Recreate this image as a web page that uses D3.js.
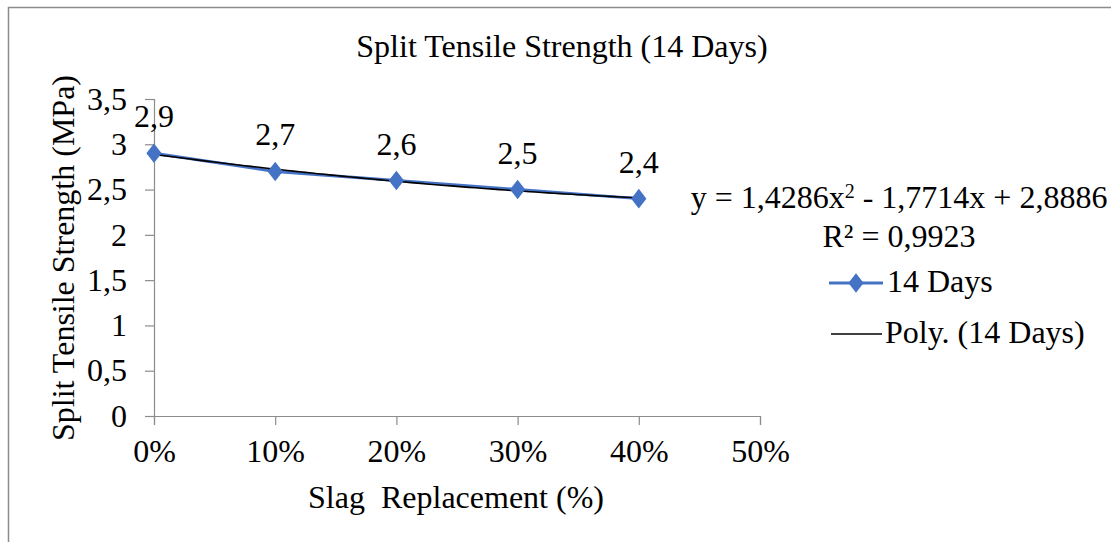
<!DOCTYPE html>
<html>
<head>
<meta charset="utf-8">
<script src="https://cdn.jsdelivr.net/npm/d3@7"></script>
<style>
  body { margin: 0; background: #fff; }
  svg text { font-family: "Liberation Serif", "Times New Roman", serif; fill: #000; }
</style>
</head>
<body>
<div id="chart"></div>
<script>
const width = 1111;
const height = 542;

// data
const categories = [0, 0.1, 0.2, 0.3, 0.4];
const strength14 = [2.9, 2.7, 2.6, 2.5, 2.4];
const valueLabels = ["2,9", "2,7", "2,6", "2,5", "2,4"];
const xTicks = [0, 0.1, 0.2, 0.3, 0.4, 0.5];
const xTickLabels = ["0%", "10%", "20%", "30%", "40%", "50%"];
const yTicks = [0, 0.5, 1, 1.5, 2, 2.5, 3, 3.5];
const yTickLabels = ["0", "0,5", "1", "1,5", "2", "2,5", "3", "3,5"];
const polyCoef = [2.8886, -1.7714, 1.4286]; // c0 + c1 x + c2 x^2

const fs = "32px";

const svg = d3.select("#chart")
  .append("svg")
  .attr("width", width)
  .attr("height", height);

// outer border
svg.append("rect")
  .attr("x", 8.5).attr("y", 7.5)
  .attr("width", width + 20).attr("height", height + 20)
  .attr("fill", "none")
  .attr("stroke", "#8c8c8c")
  .attr("stroke-width", 1.5);

const x = d3.scaleLinear().domain([0, 0.5]).range([154, 760]);
const y = d3.scaleLinear().domain([0, 3.5]).range([416, 99]);

// y axis
const yAxis = svg.append("g")
  .attr("transform", "translate(154,0)")
  .call(d3.axisLeft(y).tickValues(yTicks).tickFormat((d, i) => yTickLabels[i]).tickSize(9).tickPadding(18));
yAxis.select(".domain").attr("stroke", "#8c8c8c").attr("stroke-width", 1.2);
yAxis.selectAll(".tick line").attr("stroke", "#8c8c8c").attr("stroke-width", 1.2);
yAxis.selectAll(".tick text").style("font-size", fs);

// x axis
const xAxis = svg.append("g")
  .attr("transform", "translate(0,416)")
  .call(d3.axisBottom(x).tickValues(xTicks).tickFormat((d, i) => xTickLabels[i]).tickSize(9).tickPadding(14));
xAxis.select(".domain").attr("stroke", "#8c8c8c").attr("stroke-width", 1.2);
xAxis.selectAll(".tick line").attr("stroke", "#8c8c8c").attr("stroke-width", 1.2);
xAxis.selectAll(".tick text").style("font-size", fs);

// series line
const line = d3.line()
  .x((d, i) => x(categories[i]))
  .y(d => y(d));

svg.append("path")
  .datum(strength14)
  .attr("d", line)
  .attr("fill", "none")
  .attr("stroke", "#4472c4")
  .attr("stroke-width", 3);

// trendline
const poly = t => polyCoef[0] + polyCoef[1] * t + polyCoef[2] * t * t;
const trendX = d3.range(0, 0.4001, 0.005);
svg.append("path")
  .datum(trendX)
  .attr("d", d3.line().x(d => x(d)).y(d => y(poly(d))))
  .attr("fill", "none")
  .attr("stroke", "#000")
  .attr("stroke-width", 1.6);

// markers
const diamond = d3.symbol().type(d3.symbolDiamond).size(110);
svg.selectAll(".marker")
  .data(strength14)
  .enter()
  .append("path")
  .attr("class", "marker")
  .attr("d", diamond)
  .attr("transform", (d, i) => `translate(${x(categories[i])},${y(d)}) scale(1.35,1)`)
  .attr("fill", "#4472c4");

// data labels
svg.selectAll(".vlabel")
  .data(strength14)
  .enter()
  .append("text")
  .attr("class", "vlabel")
  .attr("x", (d, i) => x(categories[i]))
  .attr("y", d => y(d) - 26)
  .attr("text-anchor", "middle")
  .style("font-size", fs)
  .text((d, i) => valueLabels[i]);

// title
svg.append("text")
  .attr("x", 562).attr("y", 57)
  .attr("text-anchor", "middle")
  .style("font-size", fs)
  .text("Split Tensile Strength (14 Days)");

// axis titles
svg.append("text")
  .attr("x", 456).attr("y", 508)
  .attr("text-anchor", "middle")
  .style("font-size", fs)
  .style("white-space", "pre")
  .text("Slag  Replacement (%)");

svg.append("text")
  .attr("transform", "translate(74,258) rotate(-90)")
  .attr("text-anchor", "middle")
  .style("font-size", fs)
  .text("Split Tensile Strength (MPa)");

// trendline equation
const eq = svg.append("text")
  .attr("x", 899).attr("y", 208)
  .attr("text-anchor", "middle")
  .style("font-size", fs);
eq.append("tspan").text("y = 1,4286x");
eq.append("tspan").attr("dy", -10).style("font-size", "20px").text("2");
eq.append("tspan").attr("dy", 10).text(" - 1,7714x + 2,8886");

svg.append("text")
  .attr("x", 899).attr("y", 247)
  .attr("text-anchor", "middle")
  .style("font-size", fs)
  .text("R² = 0,9923");

// legend
const legend = svg.append("g");
legend.append("line")
  .attr("x1", 829).attr("x2", 883).attr("y1", 283).attr("y2", 283)
  .attr("stroke", "#4472c4").attr("stroke-width", 3);
legend.append("path")
  .attr("d", diamond)
  .attr("transform", "translate(856,283) scale(1.35,1)")
  .attr("fill", "#4472c4");
legend.append("text")
  .attr("x", 887).attr("y", 292)
  .style("font-size", fs)
  .text("14 Days");

legend.append("line")
  .attr("x1", 831).attr("x2", 882).attr("y1", 334).attr("y2", 334)
  .attr("stroke", "#000").attr("stroke-width", 1.4);
legend.append("text")
  .attr("x", 885).attr("y", 343)
  .style("font-size", fs)
  .text("Poly. (14 Days)");
</script>
</body>
</html>
